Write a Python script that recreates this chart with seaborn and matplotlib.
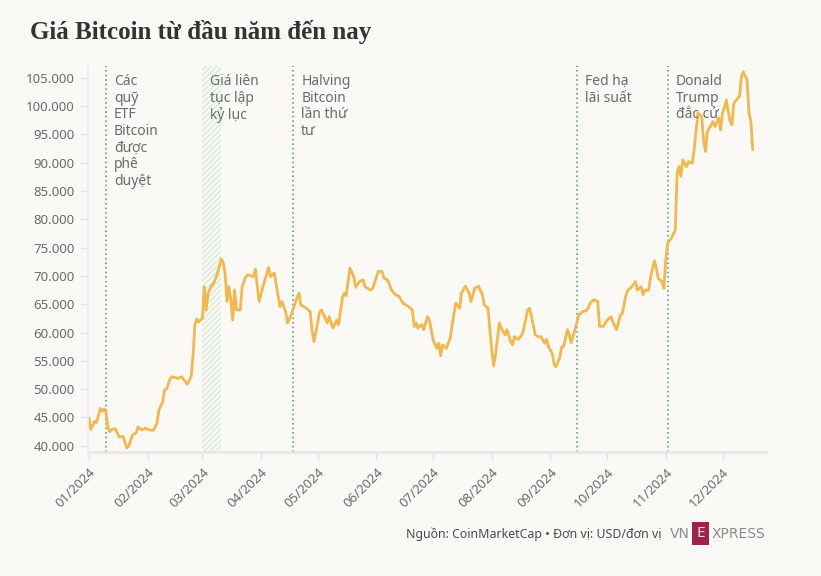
import pandas as pd
import numpy as np
import matplotlib
matplotlib.use("Agg")
import matplotlib.pyplot as plt
import matplotlib.dates as mdates
import matplotlib.transforms as mtransforms
from matplotlib.ticker import FuncFormatter
from matplotlib.patches import Rectangle
import seaborn as sns

# --- dữ liệu ---
start = pd.Timestamp("2024-01-01")
day_offsets = [0, 1, 3, 4, 6, 7, 8, 9, 10, 11, 12, 14, 16, 18, 20, 21, 23, 25, 26, 28,
               30, 31, 34, 36, 37, 39, 40, 41, 43, 44, 47, 49, 51, 52, 54, 55, 56, 57, 58, 60,
               61, 62, 63, 65, 66, 68, 69, 70, 71, 72, 73, 74, 75, 76, 77, 78, 80, 81, 83, 84,
               87, 88, 90, 92, 95, 96, 98, 101, 102, 104, 105, 107, 109, 111, 112, 115, 117, 118, 119, 120,
               122, 123, 126, 127, 129, 131, 132, 134, 135, 136, 138, 140, 141, 143, 145, 146, 149, 150, 153, 155,
               156, 158, 160, 162, 164, 166, 169, 171, 172, 173, 174, 176, 177, 179, 180, 182, 184, 185, 186, 187,
               189, 191, 193, 194, 196, 197, 199, 201, 202, 204, 206, 208, 209, 211, 212, 213, 214, 215, 217, 218,
               220, 221, 223, 224, 225, 227, 229, 230, 232, 233, 234, 236, 238, 239, 241, 242, 243, 245, 246, 247,
               249, 250, 251, 253, 254, 255, 257, 259, 261, 263, 264, 265, 267, 269, 270, 272, 274, 276, 277, 279,
               281, 282, 284, 285, 287, 289, 290, 292, 293, 294, 296, 297, 299, 300, 301, 303, 304, 305, 306, 308,
               310, 311, 312, 313, 314, 316, 317, 319, 320, 321, 322, 324, 325, 326, 327, 329, 330, 331, 333, 334,
               335, 336, 337, 339, 340, 341, 343, 344, 345, 346, 348, 349, 350, 351]
prices = [44900, 42900, 44300, 44100, 46600, 46100, 46500, 46000, 43100, 42500, 42900, 43000, 41500, 41700, 39600, 39900, 41900, 42300, 43300, 42800,
          43100, 42900, 42700, 44000, 46300, 47800, 49900, 50000, 51900, 52200, 51900, 52200, 51300, 50900, 52200, 55700, 61300, 62400, 61900, 62500,
          68100, 64000, 67000, 68400, 68700, 70500, 71800, 73000, 72300, 70500, 65500, 68100, 65800, 62200, 67500, 64000, 64000, 68100, 69900, 70200,
          69900, 71200, 65500, 68100, 71500, 69900, 70500, 64600, 65500, 63700, 61700, 63100, 65200, 67000, 64900, 64300, 63700, 60200, 58400, 60200,
          63700, 64000, 61700, 62800, 60800, 62200, 61400, 66100, 67000, 66500, 71400, 69900, 68000, 69000, 69300, 68100, 67500, 67800, 70800, 70800,
          69600, 69300, 67500, 66700, 66400, 65200, 64600, 64000, 61100, 61700, 60800, 61400, 60500, 62800, 62200, 58700, 57200, 58100, 55900, 57800,
          57200, 59000, 63400, 65200, 64300, 67000, 68200, 67000, 65500, 67800, 68200, 66700, 64900, 64300, 60500, 56900, 54100, 56100, 61700, 60800,
          59600, 60500, 58400, 57800, 59300, 58800, 59600, 60800, 64000, 64300, 62800, 59600, 59200, 59300, 58100, 58800, 57500, 56300, 54300, 54000,
          55700, 57500, 57500, 60500, 59600, 58200, 60500, 63100, 63700, 63900, 64300, 65200, 65800, 65500, 61100, 61100, 62200, 62800, 61900, 60500,
          63100, 63400, 66700, 67500, 68100, 69000, 67500, 68100, 66700, 67500, 67500, 69900, 72700, 71400, 69600, 69000, 67800, 72800, 75800, 76700,
          78100, 88200, 89300, 87600, 90500, 89300, 90200, 89900, 92300, 95500, 98800, 98200, 94000, 92000, 95500, 96700, 97300, 96400, 97900, 95800,
          98800, 99700, 101100, 97300, 96700, 100500, 101400, 101700, 105200, 106100, 104600, 98800, 97300, 92300]

# sự kiện: (ngày, nhãn)
event_days = [9, 108, 258, 306]
event_labels = ["Các\nquỹ\nETF\nBitcoin\nđược\nphê\nduyệt", "Halving\nBitcoin\nlần thứ\ntư", "Fed hạ\nlãi suất", "Donald\nTrump\nđắc cử"]
record_span = (60, 70)
record_label = "Giá liên\ntục lập\nkỷ lục"

y_ticks = list(range(40000, 105001, 5000))

df = pd.DataFrame({"date": start + pd.to_timedelta(day_offsets, unit="D"), "price": prices})

# --- vẽ ---
bg = "#faf9f6"
sns.set_theme(style="white")
plt.rcParams["font.family"] = ["Noto Sans", "DejaVu Sans"]

fig = plt.figure(figsize=(8.21, 5.76), dpi=100, facecolor=bg)
ax = fig.add_axes([88 / 821, 1 - 452 / 576, (766 - 88) / 821, (452 - 66) / 576])
ax.set_facecolor(bg)

sns.lineplot(data=df, x="date", y="price", ax=ax, color="#f2b84b", lw=2.0)

ax.set_xlim(start - pd.Timedelta(days=0.5), start + pd.Timedelta(days=358))
ax.set_ylim(38900, 107100)

# vùng lập kỷ lục
ax.axvspan(start + pd.Timedelta(days=record_span[0]), start + pd.Timedelta(days=record_span[1]),
           facecolor="none", edgecolor="#d5ead5", hatch="//////", lw=0, zorder=0)

text_off = mtransforms.offset_copy(ax.transData, fig=fig, x=8, y=0, units="dots")
for d, lab in zip(event_days, event_labels):
    xd = start + pd.Timedelta(days=d)
    ax.axvline(xd, color="#3f9a6e", ls=(0, (1, 2)), lw=1.1, zorder=1)
    ax.text(mdates.date2num(xd), 105700, lab, transform=text_off, va="top", ha="left",
            fontsize=10, color="#6b6b6b", linespacing=1.15)
ax.text(mdates.date2num(start + pd.Timedelta(days=record_span[0])), 105700, record_label,
        transform=text_off, va="top", ha="left", fontsize=10, color="#6b6b6b", linespacing=1.15)

# trục
ax.set_yticks(y_ticks)
ax.yaxis.set_major_formatter(FuncFormatter(lambda v, p: f"{int(v):,}".replace(",", ".")))
ax.xaxis.set_major_locator(mdates.MonthLocator())
ax.xaxis.set_major_formatter(mdates.DateFormatter("%m/%Y"))
ax.tick_params(axis="both", colors="#e3e3e3", labelcolor="#6b6b6b", labelsize=9.5, length=6, width=1,
               left=True, bottom=True)
plt.setp(ax.get_xticklabels(), rotation=45, ha="right", rotation_mode="anchor")
ax.set_xlabel("")
ax.set_ylabel("")
for s in ["top", "right"]:
    ax.spines[s].set_visible(False)
ax.spines["left"].set_color("#ececec")
ax.spines["bottom"].set_color("#e6e6e6")
ax.spines["bottom"].set_linewidth(1.8)

# tiêu đề và chú thích
fig.text(30 / 821, 1 - 32 / 576, "Giá Bitcoin từ đầu năm đến nay", fontsize=18, fontweight="bold",
         family=["Liberation Serif", "DejaVu Serif"], color="#333333", va="center", ha="left")
fig.text(406 / 821, 1 - 534 / 576, "Nguồn: CoinMarketCap • Đơn vị: USD/đơn vị", fontsize=8.9,
         color="#4a4a4a", va="center", ha="left")
fig.text(670 / 821, 1 - 534 / 576, "VN", fontsize=10, family=["DejaVu Sans"], color="#8c8c8c",
         va="center", ha="left")
fig.patches.append(Rectangle((692 / 821, 1 - 545 / 576), 17 / 821, 23 / 576, transform=fig.transFigure,
                             facecolor="#9f224e", edgecolor="none"))
fig.text(700.5 / 821, 1 - 533.5 / 576, "E", fontsize=11, color="#f5d6e0", va="center", ha="center", fontweight="bold")
fig.text(712 / 821, 1 - 534 / 576, "XPRESS", fontsize=10, family=["DejaVu Sans"], color="#8c8c8c",
         va="center", ha="left")

fig.savefig("out.png", dpi=100, facecolor=bg)
